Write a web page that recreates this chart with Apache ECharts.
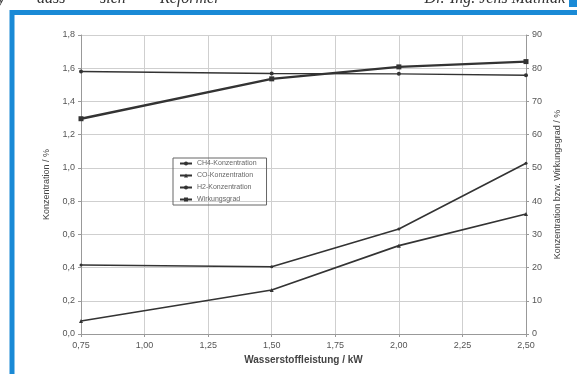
<!DOCTYPE html>
<html>
<head>
<meta charset="utf-8">
<script src="https://cdn.jsdelivr.net/npm/echarts@6/dist/echarts.min.js"></script>
<style>
html,body{margin:0;padding:0;background:#fff;}
#main{width:577px;height:374px;}
</style>
</head>
<body>
<div id="main"></div>
<script>
// Wasserstoffleistung in kW
var leistung=[0.75,1.50,2.00,2.50];
// linke Achse (%)
var ch4=[0.415,0.405,0.632,1.028];
var co=[0.078,0.265,0.532,0.722];
// rechte Achse (%)
var h2=[79.0,78.4,78.3,77.9];
var wirkungsgrad=[64.8,76.8,80.4,82.0];

var names=['CH4-Konzentration','CO-Konzentration','H2-Konzentration','Wirkungsgrad'];

function pairs(xs,ys){
    var out=[];
    xs.forEach((x,i)=>out.push([x,ys[i]]));
    return out;
}
function komma(v,d){
    return v.toFixed(d).replace('.',',');
}

var lbl={color:'#555',fontSize:9,fontFamily:'Liberation Sans'};
var grid_line={lineStyle:{color:'#cfcfcf',width:1}};
var ax_line={lineStyle:{color:'#999',width:1}};
var kopf='italic 16px "Liberation Serif"';

var myChart=echarts.init(document.getElementById('main'));
myChart.setOption({
    backgroundColor:'#fff',
    animation:false,
    textStyle:{fontFamily:'Liberation Sans'},
    graphic:[
        {type:'rect',shape:{x:12,y:12.5,width:620,height:420},style:{fill:'none',stroke:'#1a8ad6',lineWidth:5},z:-1},
        {type:'rect',shape:{x:569,y:0,width:8,height:7},style:{fill:'#1a8ad6'}},
        {type:'text',x:-2,y:7,style:{text:'y',font:kopf,fill:'#333',verticalAlign:'bottom'}},
        {type:'text',x:37,y:7,style:{text:'dass',font:kopf,fill:'#333',verticalAlign:'bottom'}},
        {type:'text',x:100,y:7,style:{text:'sich',font:kopf,fill:'#333',verticalAlign:'bottom'}},
        {type:'text',x:160,y:7,style:{text:'Reformer',font:kopf,fill:'#333',verticalAlign:'bottom'}},
        {type:'text',x:565,y:7,style:{text:'Dr.-Ing. Jens Mathiak',font:kopf,fill:'#333',align:'right',verticalAlign:'bottom'}}
    ],
    legend:{
        data:names,
        orient:'vertical',
        left:173,
        top:158,
        itemWidth:12,
        itemHeight:5,
        itemGap:5,
        padding:[2,10,2,6],
        borderColor:'#666',
        borderWidth:1,
        textStyle:{fontSize:7,color:'#666'}
    },
    grid:{left:81,right:51,top:35,bottom:40},
    xAxis:{
        type:'value',
        min:0.75,
        max:2.5,
        interval:0.25,
        name:'Wasserstoffleistung / kW',
        nameLocation:'middle',
        nameGap:20,
        nameTextStyle:{fontSize:10,fontWeight:'bold',color:'#444'},
        axisLine:ax_line,
        axisTick:{show:true,length:3,lineStyle:{color:'#999'}},
        axisLabel:Object.assign({margin:7,formatter:v=>komma(v,2)},lbl),
        splitLine:grid_line
    },
    yAxis:[
        {
            type:'value',
            min:0,
            max:1.8,
            interval:0.2,
            name:'Konzentration / %',
            nameLocation:'middle',
            nameRotate:90,
            nameGap:30,
            nameTextStyle:{fontSize:9,color:'#444'},
            axisLine:{show:true,lineStyle:{color:'#999'}},
            axisTick:{show:true,length:3,lineStyle:{color:'#999'}},
            axisLabel:Object.assign({margin:6,formatter:v=>komma(v,1)},lbl),
            splitLine:grid_line
        },
        {
            type:'value',
            min:0,
            max:90,
            interval:10,
            position:'right',
            name:'Konzentration bzw. Wirkungsgrad / %',
            nameLocation:'middle',
            nameRotate:90,
            nameGap:24,
            nameTextStyle:{fontSize:9,color:'#444'},
            axisLine:{show:true,lineStyle:{color:'#999'}},
            axisTick:{show:true,length:3,lineStyle:{color:'#999'}},
            axisLabel:Object.assign({margin:6},lbl),
            splitLine:{show:false}
        }
    ],
    series:[
        {
            name:names[0],
            type:'line',
            yAxisIndex:0,
            data:pairs(leistung,ch4),
            symbol:'circle',
            symbolSize:3,
            itemStyle:{color:'#333'},
            lineStyle:{color:'#333',width:1.6}
        },
        {
            name:names[1],
            type:'line',
            yAxisIndex:0,
            data:pairs(leistung,co),
            symbol:'triangle',
            symbolSize:4,
            itemStyle:{color:'#333'},
            lineStyle:{color:'#333',width:1.6}
        },
        {
            name:names[2],
            type:'line',
            yAxisIndex:1,
            data:pairs(leistung,h2),
            symbol:'circle',
            symbolSize:4,
            itemStyle:{color:'#333'},
            lineStyle:{color:'#333',width:1.4}
        },
        {
            name:names[3],
            type:'line',
            yAxisIndex:1,
            data:pairs(leistung,wirkungsgrad),
            symbol:'rect',
            symbolSize:5,
            itemStyle:{color:'#333'},
            lineStyle:{color:'#333',width:2.4}
        }
    ]
});
</script>
</body>
</html>
